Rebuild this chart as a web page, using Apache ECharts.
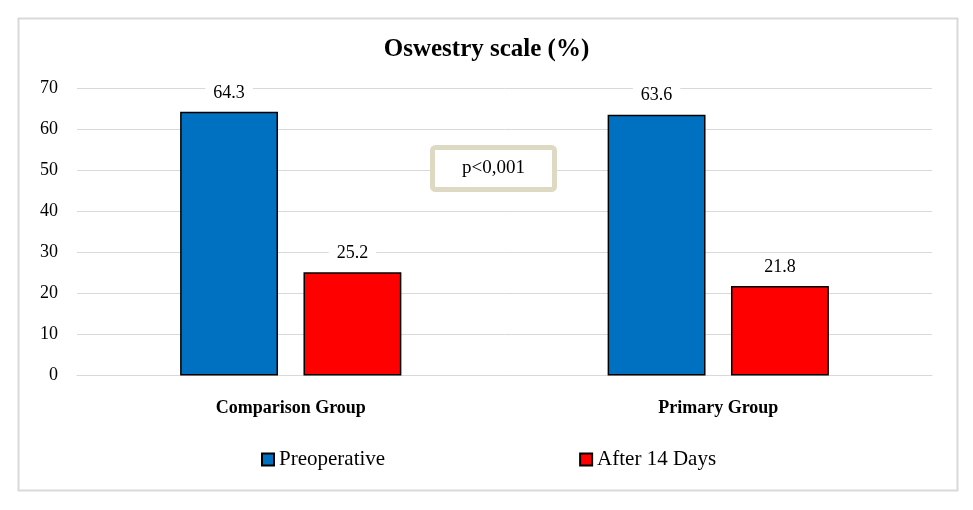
<!DOCTYPE html>
<html>
<head>
<meta charset="utf-8">
<script src="https://cdn.jsdelivr.net/npm/echarts@6/dist/echarts.min.js"></script>
<style>html,body{margin:0;padding:0;background:#fff;}#c{width:973px;height:510px;}</style>
</head>
<body>
<div id="c"></div>
<script>
const categories = ['Comparison Group', 'Primary Group'];
const preoperative = [64.3, 63.6];
const after14Days = [25.2, 21.8];
const seriesNames = ['Preoperative', 'After 14 Days'];
const yTicks = [0, 10, 20, 30, 40, 50, 60, 70];
const titleText = 'Oswestry scale (%)';
const annotationText = 'p<0,001';

const serif = '"Liberation Serif", "Times New Roman", serif';
const chart = echarts.init(document.getElementById('c'), null, {renderer: 'canvas'});
const labelCfg = {
  show: true, position: 'top', distance: 9,
  fontFamily: serif, fontSize: 18, color: '#000',
  backgroundColor: '#fff', padding: [1, 8],
  formatter: p => p.value.toFixed(1)
};
chart.setOption({
  animation: false,
  title: {
    text: titleText, left: 'center', top: 37, padding: 0,
    textStyle: {fontFamily: serif, fontSize: 25, fontWeight: 'bold', color: '#000'}
  },
  legend: {
    data: seriesNames, left: 261, top: 449, padding: 0, itemWidth: 12, itemHeight: 12, itemGap: 194,
    icon: 'rect',
    textStyle: {fontFamily: serif, fontSize: 21, color: '#000', padding: [2, 0, 0, 0]}
  },
  grid: {left: 77, right: 41, top: 88.5, bottom: 134.5, containLabel: false},
  xAxis: {
    type: 'category', data: categories,
    axisLine: {lineStyle: {color: '#d9d9d9', width: 1}},
    axisTick: {show: false},
    axisLabel: {fontFamily: serif, fontSize: 18, fontWeight: 'bold', color: '#000', margin: 24}
  },
  yAxis: {
    type: 'value', min: yTicks[0], max: yTicks[yTicks.length - 1], interval: 10,
    axisLine: {show: false}, axisTick: {show: false},
    splitLine: {lineStyle: {color: '#d9d9d9', width: 1}},
    axisLabel: {fontFamily: serif, fontSize: 18, color: '#000', margin: 19}
  },
  series: [
    {name: seriesNames[0], type: 'bar', data: preoperative, barWidth: '22.9%', barGap: '26%',
     itemStyle: {color: '#0070c0', borderColor: '#000', borderWidth: 1.5}, label: labelCfg},
    {name: seriesNames[1], type: 'bar', data: after14Days, barWidth: '22.9%',
     itemStyle: {color: '#ff0000', borderColor: '#000', borderWidth: 1.5}, label: labelCfg}
  ],
  graphic: [
    {type: 'rect', left: 16, top: 16, shape: {width: 939, height: 472},
     style: {fill: 'none', stroke: '#d9d9d9', lineWidth: 2}, silent: true, z: -1},
    {type: 'rect', x: 432.5, y: 147.5, shape: {width: 122, height: 42, r: 3},
     style: {fill: '#fff', stroke: '#ddd9c3', lineWidth: 5}, z: 10},
    {type: 'text', x: 493.5, y: 168.5, z: 11,
     style: {text: annotationText, fontFamily: serif, fontSize: 19, fill: '#000',
             align: 'center', verticalAlign: 'middle'}}
  ]
});
</script>
</body>
</html>
